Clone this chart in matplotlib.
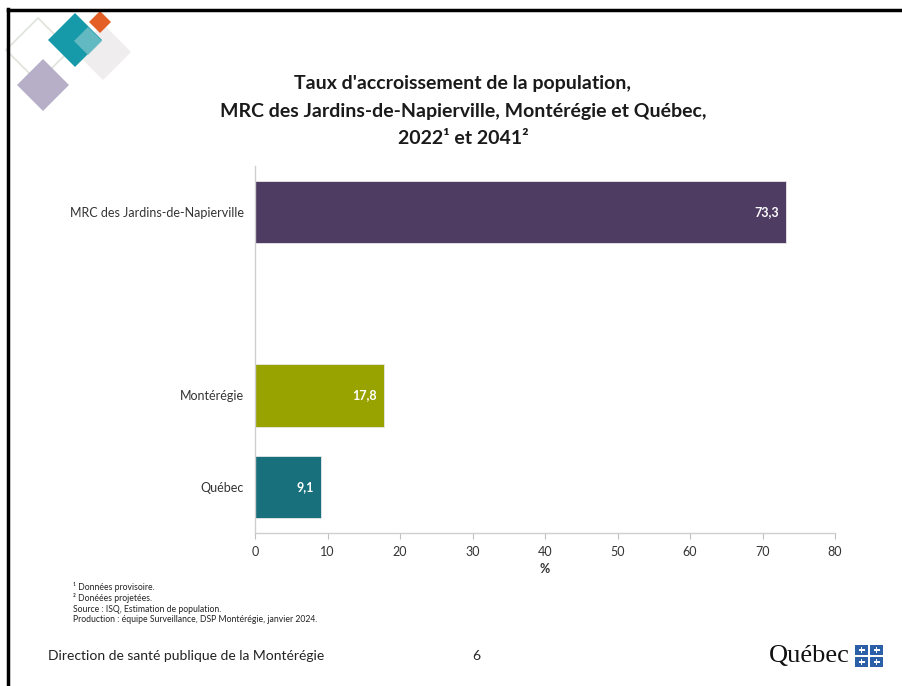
import matplotlib
matplotlib.use("Agg")
import matplotlib.pyplot as plt
from matplotlib.patches import Polygon, Rectangle

plt.rcParams["font.family"] = ["Lato", "DejaVu Sans"]

# data
categories = ["Québec", "Montérégie", "", "MRC des Jardins-de-Napierville"]
values = [9.1, 17.8, None, 73.3]
colors = ["#17707c", "#98a300", None, "#4e3c63"]
xticks = [0, 10, 20, 30, 40, 50, 60, 70, 80]

title_lines = [
    "Taux d'accroissement de la population,",
    "MRC des Jardins-de-Napierville, Montérégie et Québec,",
    "2022¹ et 2041²",
]
notes = [
    "¹ Données provisoire.",
    "² Donéées projetées.",
    "Source : ISQ, Estimation de population.",
    "Production : équipe Surveillance, DSP Montérégie, janvier 2024.",
]

W, H = 902, 686
fig = plt.figure(figsize=(W / 100, H / 100), dpi=100)


def fx(px):
    return px / W


def fy(py):
    return 1 - py / H


# slide frame (top and left)
fig.add_artist(plt.Line2D([fx(8), fx(8)], [fy(9), 0], color="black", lw=2.5))
fig.add_artist(plt.Line2D([fx(8), 1], [fy(10), fy(10)], color="black", lw=2.5))


def diamond(cx, cy, r, **kw):
    pts = [(fx(cx), fy(cy - r)), (fx(cx + r), fy(cy)),
           (fx(cx), fy(cy + r)), (fx(cx - r), fy(cy))]
    fig.add_artist(Polygon(pts, closed=True, transform=fig.transFigure, **kw))


# logo decoration
diamond(38, 50, 32, facecolor="none", edgecolor="#dfe3dc", lw=1.2)
diamond(43, 85, 26, facecolor="#b7aec8", edgecolor="none")
diamond(103, 52, 28, facecolor="#efeded", edgecolor="none")
diamond(75, 40, 27, facecolor="#169aa9", edgecolor="none")
diamond(100, 22, 11, facecolor="#e45f25", edgecolor="none")
diamond(88, 41, 14, facecolor="#6bbdc4", edgecolor="none", alpha=0.9)

# title
for i, line in enumerate(title_lines):
    fig.text(fx(463), fy(84 + 27 * i), line, ha="center", va="center",
             fontsize=14, fontweight="bold", color="#1a1a1a")

ax = fig.add_axes([fx(255), fy(533), fx(835) - fx(255), fy(166) - fy(533)])
pos = list(range(len(categories)))
for p, v, c in zip(pos, values, colors):
    if v is None:
        continue
    ax.barh(p, v, height=0.68, color=c, edgecolor="#e8e8e8", linewidth=0.6)
    ax.text(v - 1.0, p, f"{v:.1f}".replace(".", ","), ha="right", va="center",
            color="white", fontsize=9, fontweight="bold")

ax.set_xlim(0, 80)
ax.set_ylim(-0.5, 3.5)
ax.set_xticks(xticks)
ax.set_yticks(pos)
ax.set_yticklabels(categories, fontsize=9, color="#333333")
ax.tick_params(axis="y", length=0, pad=8)
ax.tick_params(axis="x", length=4, color="#bfbfbf", labelsize=9,
               labelcolor="#333333", pad=5)
for s in ["top", "right"]:
    ax.spines[s].set_visible(False)
for s in ["left", "bottom"]:
    ax.spines[s].set_color("#cfcfcf")
    ax.spines[s].set_linewidth(1)
ax.set_xlabel("%", fontsize=9, fontweight="bold", color="#333333", labelpad=4)

# footnotes
for i, n in enumerate(notes):
    fig.text(fx(73), fy(587 + 11 * i), n, ha="left", va="center",
             fontsize=6.2, color="#222222")

# footer
fig.text(fx(48), fy(656), "Direction de santé publique de la Montérégie",
         ha="left", va="center", fontsize=10, color="#222222")
fig.text(fx(476), fy(656), "6", ha="center", va="center", fontsize=10,
         color="#222222")
fig.text(fx(850), fy(656), "Québec", ha="right", va="center", fontsize=19,
         family=["Liberation Serif", "DejaVu Serif"], color="#111111")
for dx in (0, 15):
    for dy in (0, 12):
        x0, y0 = 855 + dx, 645 + dy
        fig.add_artist(Rectangle((fx(x0), fy(y0 + 10)), fx(13), 10 / H,
                                 transform=fig.transFigure,
                                 facecolor="#2b5fa8", edgecolor="none"))
        fig.add_artist(Rectangle((fx(x0 + 6), fy(y0 + 8)), fx(1.2), 6 / H,
                                 transform=fig.transFigure,
                                 facecolor="white", edgecolor="none"))
        fig.add_artist(Rectangle((fx(x0 + 3.5), fy(y0 + 5.5)), fx(6), 1.2 / H,
                                 transform=fig.transFigure,
                                 facecolor="white", edgecolor="none"))

fig.savefig("out.png", dpi=100)
